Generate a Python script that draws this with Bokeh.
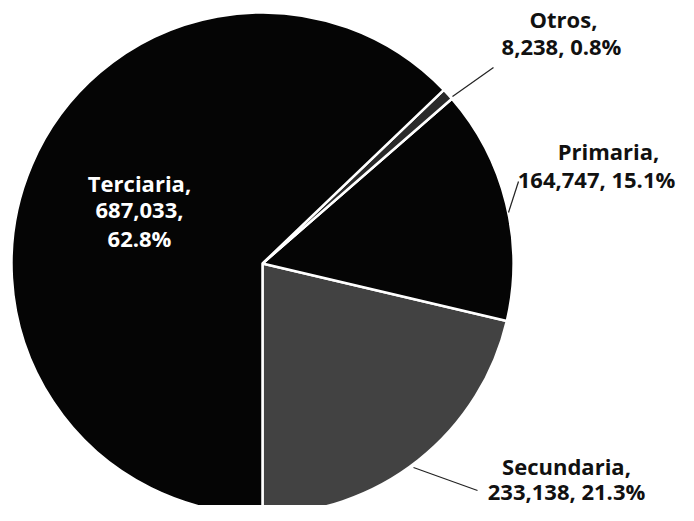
import math
from bokeh.plotting import figure
from bokeh.models import ColumnDataSource, Range1d
from bokeh.core.properties import value
from bokeh.embed import file_html
from bokeh.resources import INLINE

# Data (order: counter-clockwise from 6 o'clock)
categories = ["Secundaria", "Primaria", "Otros", "Terciaria"]
values = [233138, 164747, 8238, 687033]
percent_labels = ["21.3%", "15.1%", "0.8%", "62.8%"]
colors = ["#424242", "#050505", "#2a2a2a", "#050505"]

total = sum(values)
starts, ends = [], []
a = -math.pi / 2
for v in values:
    starts.append(a)
    a += 2 * math.pi * v / total
    ends.append(a)

# coordinates: x = screen px, y = -screen px
CX, CY, R = 262, -263, 251

p = figure(width=678, height=505, output_backend="svg", toolbar_location=None,
           x_range=Range1d(0, 678), y_range=Range1d(-505, 0), min_border=0)
p.axis.visible = False
p.grid.visible = False
p.outline_line_color = None
p.background_fill_color = "white"
p.border_fill_color = "white"

src = ColumnDataSource(dict(cat=categories, val=values, start=starts, end=ends, color=colors))
p.wedge(x=CX, y=CY, radius=R, start_angle="start", end_angle="end", direction="anticlock",
        fill_color="color", line_color="white", line_width=2.5, source=src)

def fmt(v):
    return f"{v:,}"

# label layout (screen px)
label_pos = {
    "Secundaria": [(566, 465), (566, 490)],
    "Primaria": [(608, 150), (596, 178)],
    "Otros": [(563, 18), (561, 45)],
    "Terciaria": [(139, 182), (139, 210), (139, 237)],
}
leaders = {
    "Secundaria": [(413, 467), (477, 490)],
    "Primaria": [(508, 212), (518, 181)],
    "Otros": [(452, 96), (493, 67)],
}

tx, ty, tt, tc = [], [], [], []
for cat, v, pct in zip(categories, values, percent_labels):
    if cat == "Terciaria":
        lines = [cat + ",", fmt(v) + ",", pct]
        col = "white"
    else:
        lines = [cat + ",", fmt(v) + ", " + pct]
        col = "#111111"
    for (x, y), s in zip(label_pos[cat], lines):
        tx.append(x); ty.append(-y); tt.append(s); tc.append(col)

p.text(x=tx, y=ty, text=tt, text_color=tc, text_align="center", text_baseline="middle",
       text_font=value("Open Sans"), text_font_style="bold", text_font_size="22px")

for cat, pts in leaders.items():
    p.line(x=[pt[0] for pt in pts], y=[-pt[1] for pt in pts], line_color="#222222", line_width=1.2)

open("out.html", "w").write(file_html(p, INLINE))
